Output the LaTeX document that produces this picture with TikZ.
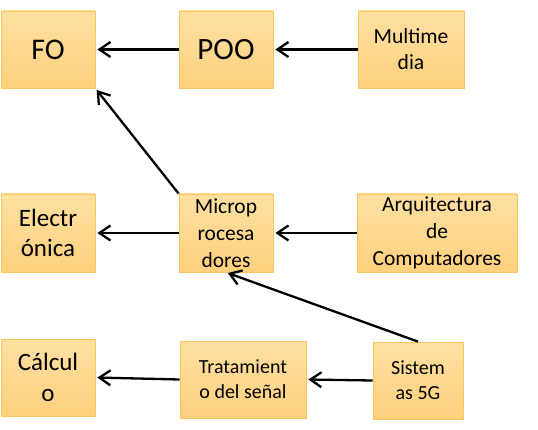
\documentclass[tikz,border=0pt]{standalone}
\usepackage{fontspec}
\setmainfont{Carlito}
\usetikzlibrary{arrows.meta}
\definecolor{boxtop}{HTML}{FEE0A2}
\definecolor{boxbot}{HTML}{FDD07D}
\definecolor{boxline}{HTML}{F9C65E}
\tikzset{
  topic/.style={rectangle, draw=boxline, line width=0.8pt, top color=boxtop, bottom color=boxbot,
    minimum height=77pt, inner sep=0pt, align=center, text=black},
  conn/.style={line width=2.3pt, shorten >=2pt, -{Straight Barb[length=11pt,width=15pt,line width=2.3pt]}},
}
\newcommand{\fs}[2]{\fontsize{#1}{#2}\selectfont}
\begin{document}
\begin{tikzpicture}[x=1pt,y=-1pt]
\useasboundingbox (0,0) rectangle (538,430);
\node[topic, minimum width=94pt, font=\fs{30}{36}] (fo) at (48,49.5) {FO};
\node[topic, minimum width=94pt, font=\fs{31}{36}] (poo) at (226,49.5) {POO};
\node[topic, minimum width=106pt, font=\fs{21.6}{26}] (mm) at (411,49.5) {Multime\\dia};
\node[topic, minimum width=94pt, minimum height=78pt, font=\fs{25}{30}] (el) at (48,233) {Electr\\ónica};
\node[topic, minimum width=94pt, minimum height=78pt, font=\fs{21.5}{27}] (mp) at (226,233) {Microp\\rocesa\\dores};
\node[topic, minimum width=160pt, minimum height=78pt, font=\fs{21.5}{27}] (ac) at (437,233) {Arquitectura\\de\\Computadores};
\node[topic, minimum width=94pt, font=\fs{25}{31}] (ca) at (48,377.5) {Cálcul\\o};
\node[topic, minimum width=126pt, font=\fs{20}{25}] (tr) at (243,379.5) {Tratamient\\o del señal};
\node[topic, minimum width=90pt, font=\fs{20}{25}] (s5) at (418,380.5) {Sistem\\as 5G};
\draw[conn] (poo.west) -- (fo.east);
\draw[conn] (mm.west) -- (poo.east);
\draw[conn] (mp.north west) -- (fo.south east);
\draw[conn] (mp.west) -- (el.east);
\draw[conn] (ac.west) -- (mp.east);
\draw[conn] (s5.north) -- (mp.south);
\draw[conn] (s5.west) -- (tr.east);
\draw[conn] (tr.west) -- (ca.east);
\end{tikzpicture}
\end{document}
